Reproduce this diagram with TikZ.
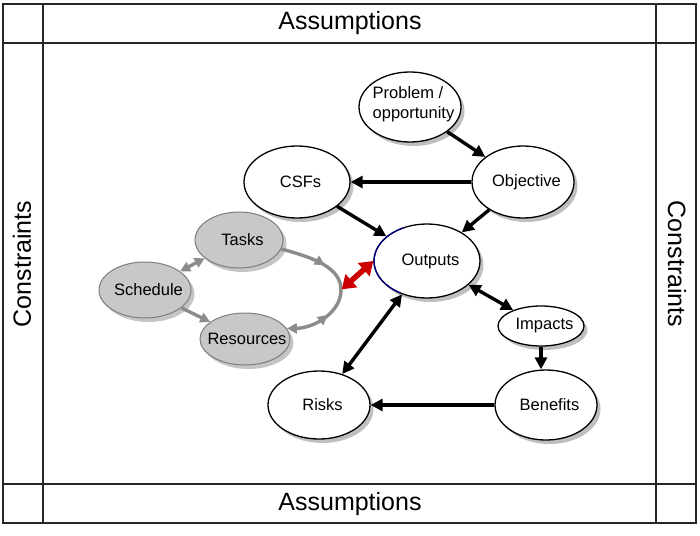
\documentclass[tikz,border=0pt]{standalone}
\usepackage{fontspec}
\setmainfont{Liberation Sans}
\usetikzlibrary{shapes.geometric,arrows.meta,shadows,decorations.markings}
\definecolor{grayarr}{RGB}{140,140,140}
\definecolor{grayfill}{RGB}{200,200,200}
\definecolor{grayedge}{RGB}{125,125,125}
\definecolor{arrred}{RGB}{204,0,0}
\definecolor{navyedge}{RGB}{0,0,128}
\begin{document}
\begin{tikzpicture}[x=1pt,y=-1pt,
  lab/.style={font=\fontsize{16.5}{19.5}\selectfont, xshift=3.5pt},
  big/.style={font=\fontsize{25}{29}\selectfont},
  frame/.style={line width=1.6pt, draw=black!85},
  wnode/.style={ellipse, draw=black, line width=1.3pt, fill=white, inner sep=0pt,
    drop shadow={shadow xshift=3.5pt, shadow yshift=-4pt, fill=black!50}},
  gnode/.style={ellipse, draw=grayedge, line width=1pt, fill=grayfill, inner sep=0pt,
    drop shadow={shadow xshift=3.5pt, shadow yshift=-4pt, fill=black!45}},
  barr/.style={line width=3.4pt, -{Triangle[length=12pt,width=12pt]}},
  bdarr/.style={line width=3.4pt, {Triangle[length=12pt,width=12pt]}-{Triangle[length=12pt,width=12pt]}},
  garr/.style={line width=3.4pt, draw=grayarr, -{Triangle[length=10pt,width=10pt]}},
  gdarr/.style={line width=3.4pt, draw=grayarr, {Triangle[length=10pt,width=10pt]}-{Triangle[length=10pt,width=10pt]}},
  midarr/.style={decoration={markings, mark=at position #1 with {\arrow[grayarr]{Triangle[length=10pt,width=10pt]}}}, postaction=decorate},
  rarr/.style={line width=5.5pt, draw=arrred, {Triangle[length=13pt,width=17pt]}-{Triangle[length=13pt,width=17pt]}}
]
\useasboundingbox (0,0) rectangle (700,535);

% frame
\draw[frame] (3,4) rectangle (696,523);
\draw[frame] (43,4) -- (43,523);
\draw[frame] (656,4) -- (656,523);
\draw[frame] (3,43) -- (696,43);
\draw[frame] (3,484) -- (696,484);
\node[big] (asstop) at (350,23) {Assumptions};
\node[big] (assbot) at (350,504) {Assumptions};
\node[big, rotate=90] (conl) at (22,264) {Constraints};
\node[big, rotate=-90] (conr) at (677,264) {Constraints};

% white nodes
\node[wnode, minimum width=102pt, minimum height=70pt,
  label={[lab,align=left,yshift=3pt]center:Problem /\\opportunity}] (prob) at (410,107) {};
\node[wnode, minimum width=102pt, minimum height=72pt, label={[lab]center:Objective}] (obj) at (523,182) {};
\node[wnode, minimum width=106pt, minimum height=72pt, label={[lab]center:CSFs}] (csf) at (297,182) {};
\node[wnode, minimum width=106pt, minimum height=74pt, label={[lab]center:Outputs}] (out) at (427,261) {};
\node[wnode, minimum width=86pt, minimum height=40pt, label={[lab]center:Impacts}] (imp) at (541,326) {};
\node[wnode, minimum width=102pt, minimum height=70pt, label={[lab]center:Benefits}] (ben) at (546,405) {};
\node[wnode, minimum width=102pt, minimum height=68pt, label={[lab]center:Risks}] (risk) at (319,405) {};

% navy edge on Outputs
\draw[navyedge, line width=1.3pt] ([shift={(115:53pt and 37pt)}]out.center)
  arc[start angle=115, end angle=240, x radius=53pt, y radius=37pt];

% gray nodes
\node[gnode, minimum width=88pt, minimum height=56pt, label={[lab]center:Tasks}] (tasks) at (239,240) {};
\node[gnode, minimum width=92pt, minimum height=56pt, label={[lab]center:Schedule}] (sched) at (145,290) {};
\node[gnode, minimum width=90pt, minimum height=52pt, label={[lab,xshift=-1.5pt]center:Resources}] (res) at (245,339) {};

\coordinate (apex) at (341,290);

% gray connectors
\draw[gdarr] (sched) -- (tasks);
\draw[garr] (sched) -- (res);
\draw[line width=3.4pt, draw=grayarr, midarr=0.6] (tasks.-12) .. controls (315,258) and (341,268) .. (apex);
\draw[line width=3.4pt, draw=grayarr, {Triangle[length=10pt,width=10pt]}-, midarr=0.6] (res.14) .. controls (315,328) and (341,312) .. (apex);

% red connector
\draw[rarr, shorten <=1pt] (apex) -- (out.west);

% black connectors
\draw[barr] (prob) -- (obj);
\draw[barr] (obj.west) -- (csf.east);
\draw[barr] (csf) -- (out);
\draw[barr] (obj) -- (out);
\draw[bdarr] (out) -- (imp);
\draw[barr] (imp.south) -- (imp.south |- ben.north);
\draw[barr] (ben.west) -- (risk.east);
\draw[bdarr] (out) -- (risk);
\end{tikzpicture}
\end{document}
